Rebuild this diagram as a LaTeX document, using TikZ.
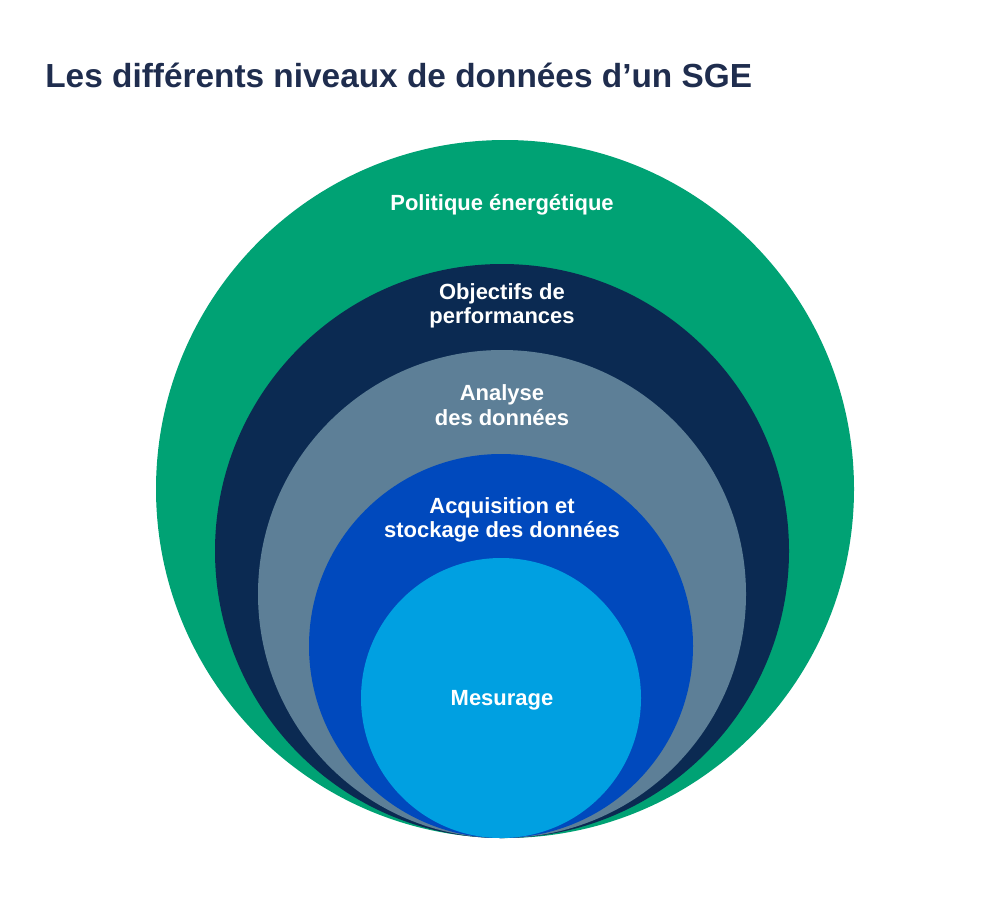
\documentclass[tikz,border=0pt]{standalone}
\usepackage{fontspec}
\setmainfont{Liberation Sans}
\definecolor{sgegreen}{HTML}{00A274}
\definecolor{sgenavy}{HTML}{0B2A52}
\definecolor{sgegrey}{HTML}{5D7F97}
\definecolor{sgeblue}{HTML}{0049BD}
\definecolor{sgelight}{HTML}{00A0E1}
\definecolor{sgetitle}{HTML}{1F2D4E}
\begin{document}
\begin{tikzpicture}[x=0.02cm,y=-0.02cm]
    \tikzset{level/.style={text=white,font=\bfseries\fontsize{12.5}{14}\selectfont,align=center,inner sep=0pt}}
    \useasboundingbox (0,0) rectangle (1000,900);
    \node [anchor=west,text=sgetitle,font=\bfseries\fontsize{19}{22}\selectfont,inner sep=0pt] (title) at (45,75) {Les différents niveaux de données d’un SGE};
    % nested circles, all touching at the bottom
    \fill [sgegreen] (505,489) circle (349);
    \fill [sgenavy] (502,551) circle (287);
    \fill [sgegrey] (502,594) circle (244);
    \fill [sgeblue] (501,646) circle (192);
    \fill [sgelight] (501,698) circle (140);
    \node [level] (politique) at (502,205) {Politique énergétique};
    \node [level] (objectifs) at (502,306) {Objectifs de\\performances};
    \node [level] (analyse) at (502,405) {Analyse\\des données};
    \node [level] (acquisition) at (502,520) {Acquisition et\\stockage des données};
    \node [level] (mesurage) at (502,700) {Mesurage};
\end{tikzpicture}
\end{document}
